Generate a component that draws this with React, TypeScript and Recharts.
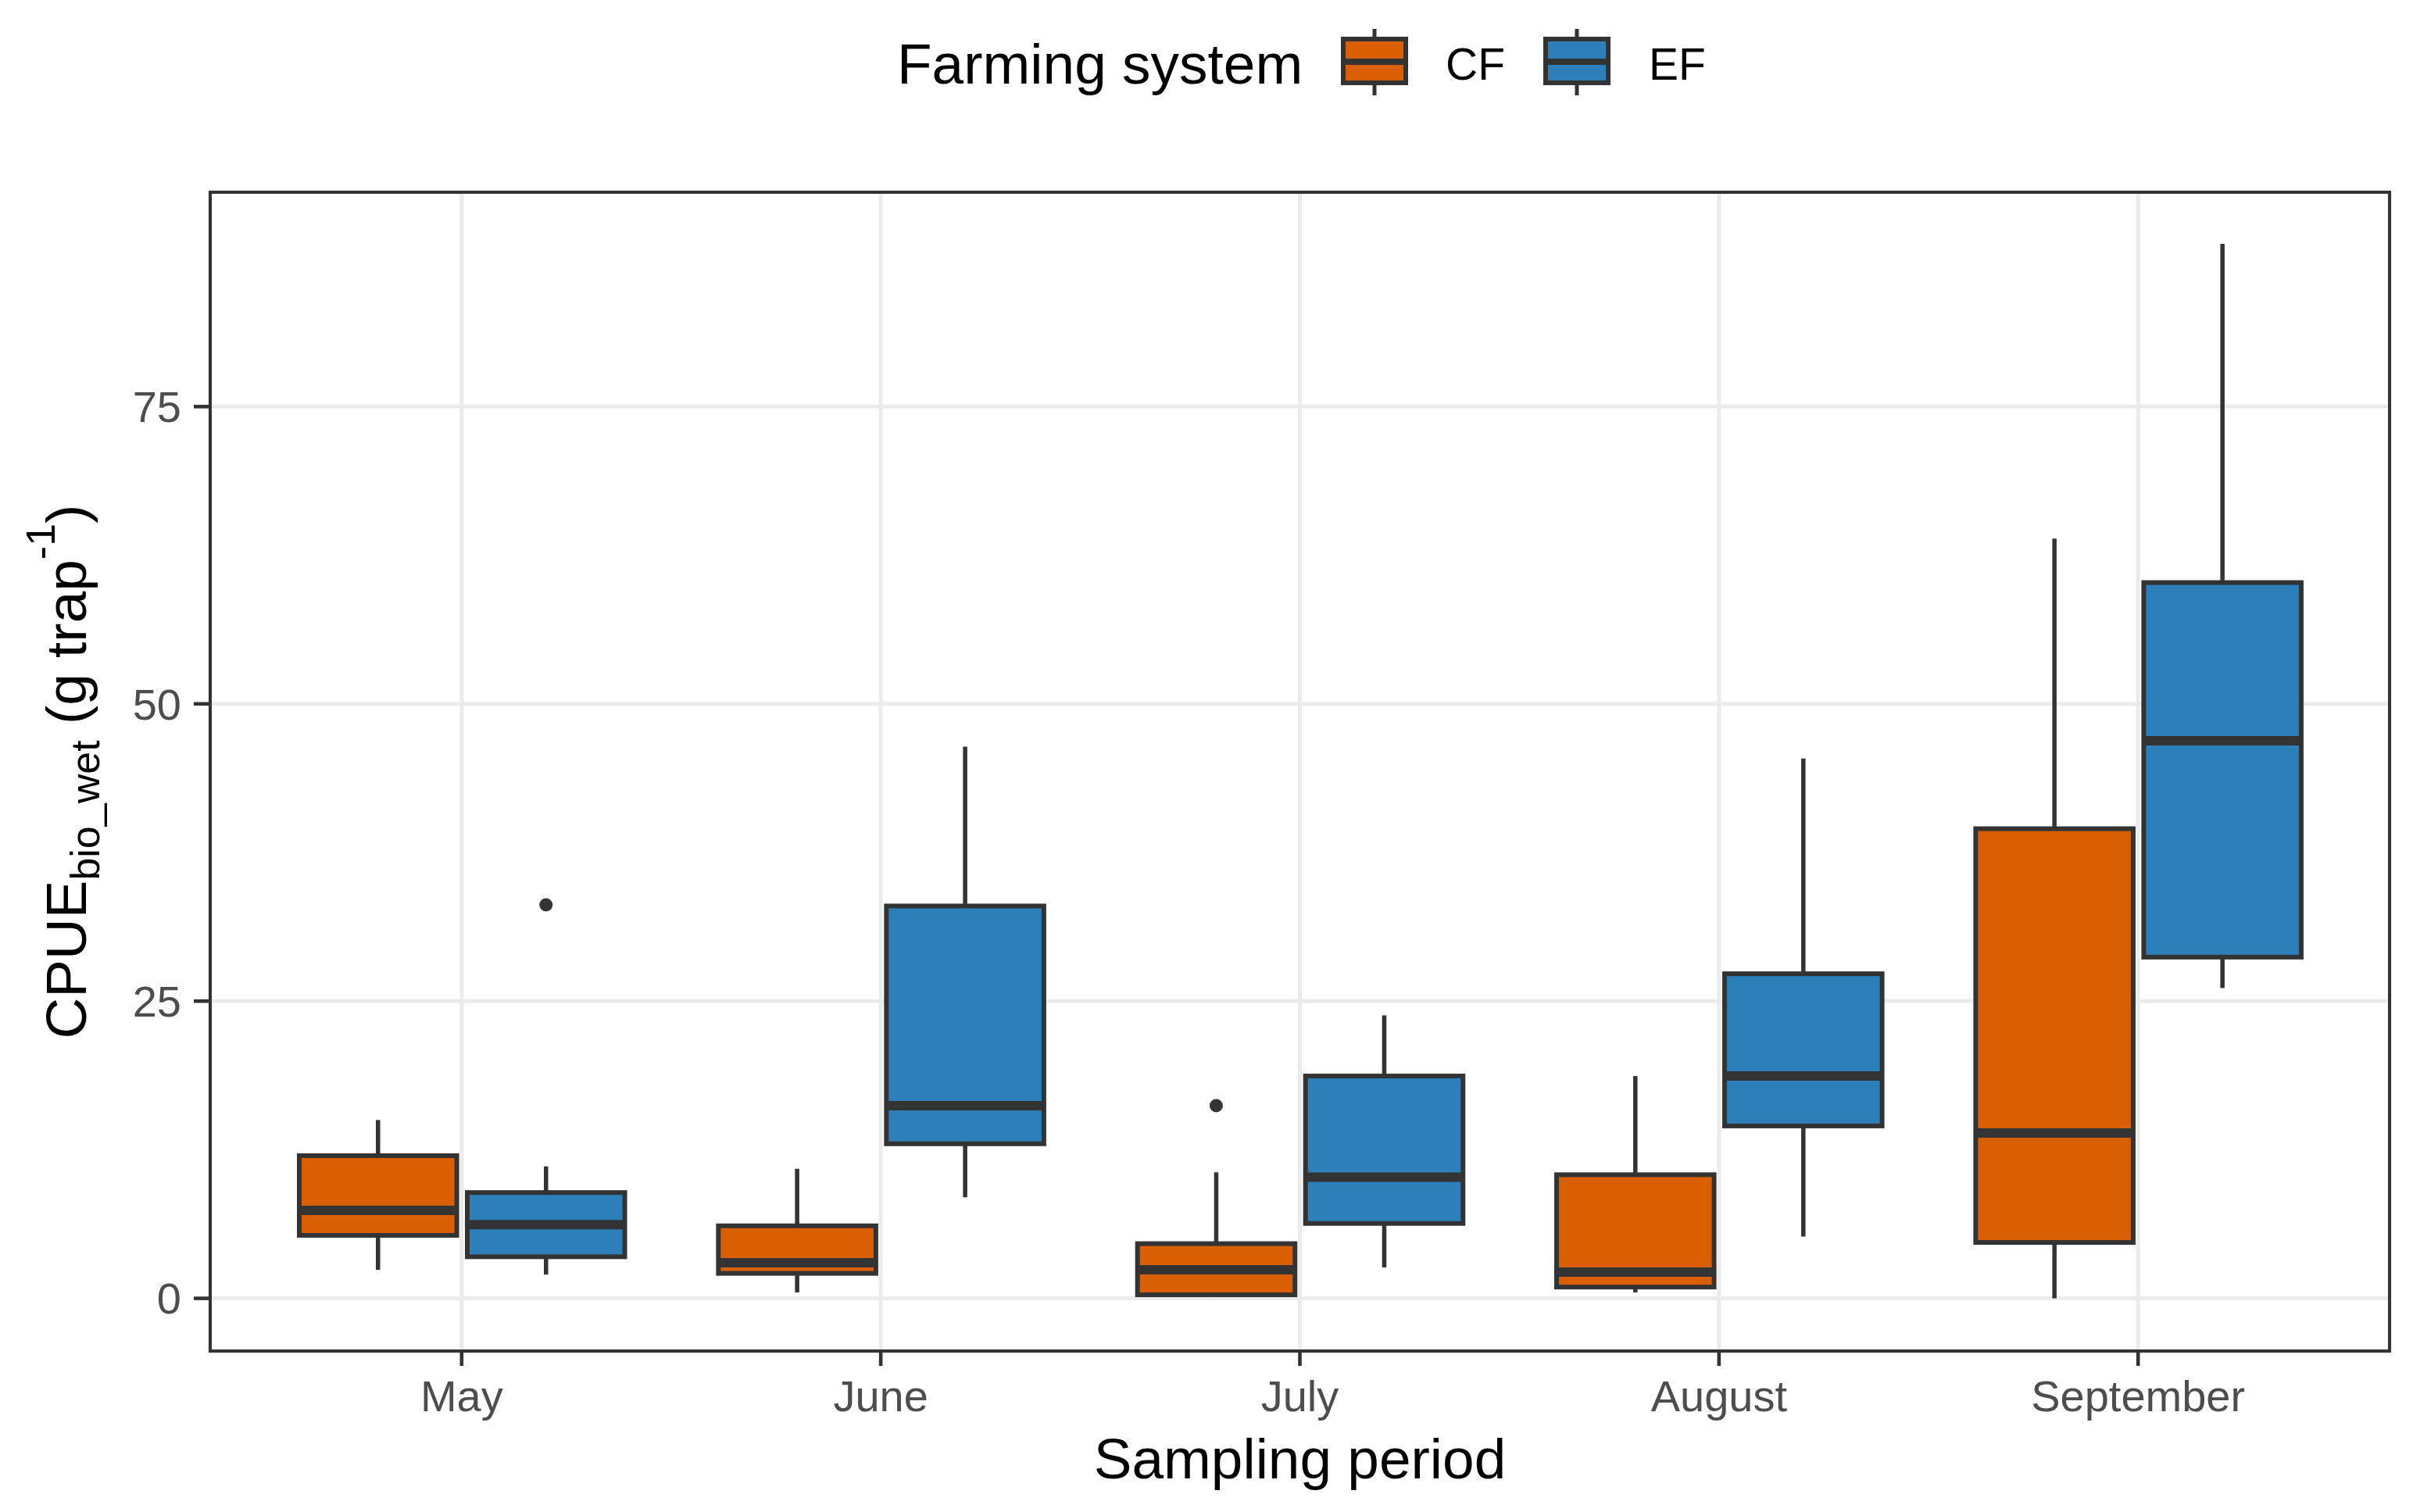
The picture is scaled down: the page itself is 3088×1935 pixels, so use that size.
import { ComposedChart, Bar, XAxis, YAxis, CartesianGrid } from 'recharts';

const months = ["May", "June", "July", "August", "September"];

// CF (orange) box statistics per month
const cfMin = [2.4, 0.5, 0.1, 0.5, 0.0];
const cfQ1 = [5.3, 2.1, 0.3, 0.95, 4.7];
const cfMedian = [7.4, 3.0, 2.4, 2.2, 13.9];
const cfQ3 = [12.0, 6.1, 4.6, 10.4, 39.5];
const cfMax = [15.0, 10.9, 10.6, 18.7, 63.9];
const cfOutliers = [[], [], [16.2], [], []];

// EF (blue) box statistics per month
const efMin = [2.0, 8.5, 2.6, 5.2, 26.1];
const efQ1 = [3.5, 13.0, 6.3, 14.5, 28.7];
const efMedian = [6.2, 16.2, 10.2, 18.7, 46.9];
const efQ3 = [8.9, 33.0, 18.7, 27.3, 60.2];
const efMax = [11.1, 46.4, 23.8, 45.4, 88.7];
const efOutliers = [[33.1], [], [], [], []];

const yTicks = [0, 25, 50, 75];

const data = months.map((month, i) => ({
  month,
  cf: { min: cfMin[i], q1: cfQ1[i], med: cfMedian[i], q3: cfQ3[i], max: cfMax[i], out: cfOutliers[i] },
  ef: { min: efMin[i], q1: efQ1[i], med: efMedian[i], q3: efQ3[i], max: efMax[i], out: efOutliers[i] },
}));

const CF_COLOR = "#D95F02";
const EF_COLOR = "#2C7FB8";
const INK = "#333333";
const FONT = '"Liberation Sans", Arial, sans-serif';

const W = 3088;
const H = 1935;
const M = { top: 246, right: 30, left: 269, bottom: 206 };
const BORDER = 4.6;

const makeBox = (key: "cf" | "ef", fill: string) => (props: any) => {
  const { x, y, width, height, payload } = props;
  const s = payload[key];
  const top = Math.min(y, y + height);
  const h = Math.abs(height);
  const bottom = top + h;
  // linear map using the bar's own scaled extent (min..max)
  const py = (v: number) => bottom - ((v - s.min) / (s.max - s.min)) * h;
  const cx = x + width / 2;
  const bw = width * 0.9375;
  const bx = cx - bw / 2;
  return (
    <g>
      <line x1={cx} x2={cx} y1={py(s.max)} y2={py(s.q3)} stroke={INK} strokeWidth={5.5} />
      <line x1={cx} x2={cx} y1={py(s.q1)} y2={py(s.min)} stroke={INK} strokeWidth={5.5} />
      <rect x={bx} y={py(s.q3)} width={bw} height={py(s.q1) - py(s.q3)} fill={fill} stroke={INK} strokeWidth={6} />
      <line x1={bx} x2={bx + bw} y1={py(s.med)} y2={py(s.med)} stroke={INK} strokeWidth={12} />
      {s.out.map((o: number, j: number) => (
        <circle key={j} cx={cx} cy={py(o)} r={8.5} fill={INK} />
      ))}
    </g>
  );
};

const YTitle = (props: any) => {
  const vb = props.viewBox || {};
  const cy = (vb.y ?? M.top) + (vb.height ?? H - M.top - M.bottom) / 2;
  const bx = 110;
  return (
    <text
      x={bx}
      y={cy}
      transform={`rotate(-90 ${bx} ${cy})`}
      textAnchor="middle"
      fontFamily={FONT}
      fontSize={73}
      fill="#000"
    >
      <tspan>CPUE</tspan>
      <tspan fontSize={52} dy={17}>bio_wet</tspan>
      <tspan dy={-17}> (g trap</tspan>
      <tspan fontSize={52} dy={-40}>-1</tspan>
      <tspan dy={40}>)</tspan>
    </text>
  );
};

const XTitle = (props: any) => {
  const vb = props.viewBox || {};
  const cx = (vb.x ?? M.left) + (vb.width ?? W - M.left - M.right) / 2;
  const y = (vb.y ?? H - M.bottom) + 163;
  return (
    <text x={cx} y={y} textAnchor="middle" fontFamily={FONT} fontSize={73} fill="#000">
      Sampling period
    </text>
  );
};

const LegendKey = ({ cx, fill }: { cx: number; fill: string }) => (
  <g>
    <line x1={cx} x2={cx} y1={37} y2={122} stroke={INK} strokeWidth={5} />
    <rect x={cx - 40} y={50} width={80} height={56} fill={fill} stroke={INK} strokeWidth={6} />
    <line x1={cx - 40} x2={cx + 40} y1={79} y2={79} stroke={INK} strokeWidth={8} />
  </g>
);

const App = () => {
  const plotWidth = W - M.left - M.right;
  const plotHeight = H - M.top - M.bottom;
  const pad = plotWidth / 52;
  return (
    <div style={{ position: "relative", width: W, height: H, background: "#fff" }}>
      <style>{`body{margin:0}`}</style>
      <ComposedChart
        width={W}
        height={H}
        data={data}
        margin={{ top: M.top, right: M.right, left: 0, bottom: 0 }}
        barCategoryGap="10%"
        barGap={0}
      >
        <CartesianGrid stroke="#EBEBEB" strokeWidth={5} />
        <XAxis
          dataKey="month"
          height={M.bottom}
          padding={{ left: pad, right: pad }}
          tickSize={19}
          tickMargin={18}
          tick={{ fill: "#4D4D4D", fontSize: 56, fontFamily: FONT }}
          tickLine={{ stroke: INK, strokeWidth: BORDER }}
          axisLine={false}
          label={{ content: (p: any) => <XTitle {...p} /> }}
        />
        <YAxis
          type="number"
          width={M.left}
          domain={[-4.43, 93.03]}
          ticks={yTicks}
          allowDataOverflow
          tickSize={21}
          tickMargin={16}
          tick={{ fill: "#4D4D4D", fontSize: 56, fontFamily: FONT }}
          tickLine={{ stroke: INK, strokeWidth: BORDER }}
          axisLine={false}
          label={{ content: (p: any) => <YTitle {...p} /> }}
        />
        <Bar
          dataKey={(d: any) => [d.cf.min, d.cf.max]}
          name="CF"
          shape={makeBox("cf", CF_COLOR)}
          isAnimationActive={false}
        />
        <Bar
          dataKey={(d: any) => [d.ef.min, d.ef.max]}
          name="EF"
          shape={makeBox("ef", EF_COLOR)}
          isAnimationActive={false}
        />
      </ComposedChart>
      {/* panel border */}
      <div
        style={{
          position: "absolute",
          left: M.left - BORDER / 2,
          top: M.top - BORDER / 2,
          width: plotWidth + BORDER,
          height: plotHeight + BORDER,
          border: `${BORDER}px solid ${INK}`,
          boxSizing: "border-box",
          pointerEvents: "none",
        }}
      />
      <svg
        width={W}
        height={160}
        style={{ position: "absolute", left: 0, top: 0, pointerEvents: "none" }}
      >
        <text x={1148} y={107} fontFamily={FONT} fontSize={73} fill="#000">
          Farming system
        </text>
        <LegendKey cx={1759} fill={CF_COLOR} />
        <text x={1850} y={102} fontFamily={FONT} fontSize={57} fill="#000">
          CF
        </text>
        <LegendKey cx={2018} fill={EF_COLOR} />
        <text x={2110} y={102} fontFamily={FONT} fontSize={57} fill="#000">
          EF
        </text>
      </svg>
    </div>
  );
};

export default App;
